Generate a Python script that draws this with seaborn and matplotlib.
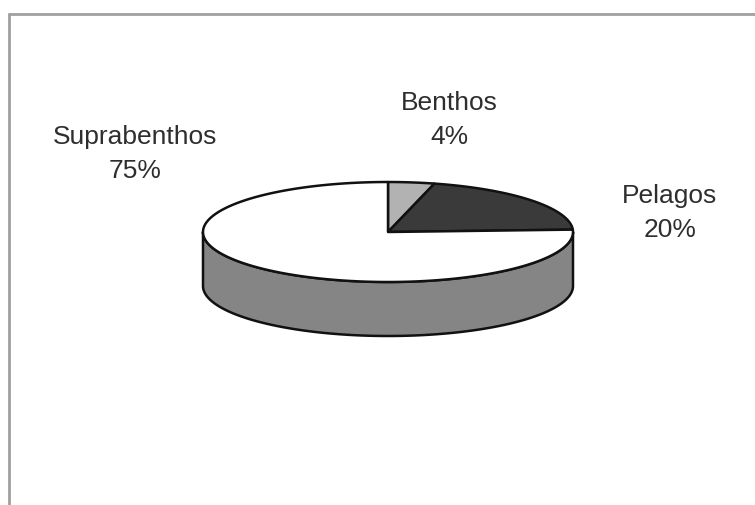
import numpy as np
import matplotlib
matplotlib.use("Agg")
import matplotlib.pyplot as plt
import seaborn as sns

# Composition of the catch by habitat
categories = ["Benthos", "Pelagos", "Suprabenthos"]
shares = [4, 20, 75]
labels = ["Benthos\n4%", "Pelagos\n20%", "Suprabenthos\n75%"]

sns.set_theme(style="white")
plt.rcParams["font.family"] = ["Liberation Sans", "DejaVu Sans"]

top_colors = ["#b2b2b2", "#3a3a3a", "#ffffff"]
side_colors = ["#858585", "#2a2a2a", "#858585"]

fig = plt.figure(figsize=(7.55, 5.05), dpi=100)
ax = fig.add_axes([0, 0, 1, 1])
ax.set_xlim(0, 755)
ax.set_ylim(505, 0)
ax.axis("off")

# Ellipse geometry of the tilted disc (pixel-like axes units)
cx, cy, rx, ry, depth = 388, 232, 185, 50, 54

def rim(theta_deg, dy=0.0):
    t = np.radians(theta_deg)
    return cx + rx * np.cos(t), cy - ry * np.sin(t) + dy

# Slice angles: start at 12 o'clock, run clockwise
vals = np.asarray(shares, dtype=float)
fracs = vals / vals.sum()
ends = 90 - 360 * np.cumsum(fracs)
starts = np.concatenate([[90], ends[:-1]])

# Front wall of the disc (visible for angles 180..360)
for s, e, col in zip(starts, ends, side_colors):
    lo, hi = e, s  # slice spans [lo, hi] in degrees
    for shift in (-360, 0, 360):
        a = max(lo + shift, 180)
        b = min(hi + shift, 360)
        if b > a:
            th = np.linspace(a, b, 200)
            xt, yt = rim(th)
            xb, yb = rim(th[::-1], depth)
            ax.fill(np.concatenate([xt, xb]), np.concatenate([yt, yb]),
                    facecolor=col, edgecolor="#111111", linewidth=1.8,
                    joinstyle="round", zorder=2)

# Top faces
for s, e, col in zip(starts, ends, top_colors):
    th = np.linspace(s, e, 300)
    xr, yr = rim(th)
    xs = np.concatenate([[cx], xr, [cx]])
    ys = np.concatenate([[cy], yr, [cy]])
    ax.fill(xs, ys, facecolor=col, edgecolor="#111111", linewidth=1.8,
            joinstyle="round", zorder=3)

# Category labels
label_pos = {"Benthos": (449, 120), "Pelagos": (670, 213), "Suprabenthos": (135, 154)}
for cat, lab in zip(categories, labels):
    x, y = label_pos[cat]
    ax.text(x, y, lab, ha="center", va="center", multialignment="center",
            fontsize=19, color="#2e2e2e", linespacing=1.55, zorder=4)

# Chart border (top and left edges)
ax.plot([9, 755], [14, 14], color="#a0a0a0", linewidth=2, zorder=1)
ax.plot([9, 9], [14, 505], color="#a0a0a0", linewidth=2, zorder=1)

fig.savefig("out.png", dpi=100)
